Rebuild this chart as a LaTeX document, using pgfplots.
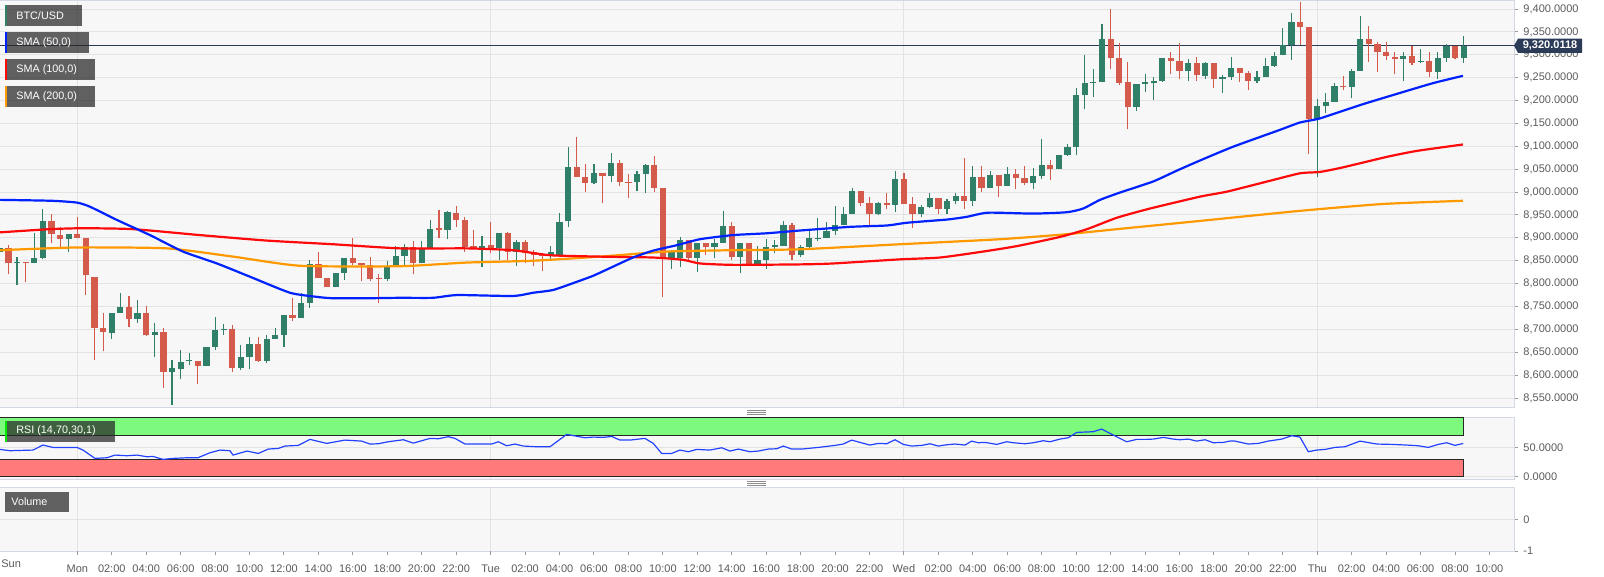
\documentclass[border=0pt]{standalone}
\usepackage{pgfplots}
\pgfplotsset{compat=1.18}
\usepackage{pgfplotstable}
\usepackage{fontspec}
\setmainfont{Liberation Sans}
\definecolor{cup}{HTML}{2F7F69}
\definecolor{cdn}{HTML}{D45A4B}
\definecolor{smaA}{HTML}{0022FF}
\definecolor{smaB}{HTML}{FF0A0A}
\definecolor{smaC}{HTML}{FF9900}
\definecolor{panelbg}{HTML}{F7F7F7}
\definecolor{gridc}{HTML}{E3E3E3}
\definecolor{framec}{HTML}{D3D8E6}
\definecolor{navy}{HTML}{2B3B58}
\definecolor{labc}{HTML}{5A5A5A}
\definecolor{rsigreen}{HTML}{7DF97D}
\definecolor{rsired}{HTML}{FF7B7B}
\definecolor{rsiline}{HTML}{2342FF}
\definecolor{boxc}{HTML}{262626}

\pgfplotstableread{
i o h l c
0 8870 8884 8866 8877
2 8846 8859 8797 8848
4 8846 8910 8846 8857
5 8857 8964 8853 8936
8 8897 8908 8870 8908
13 8693 8736 8680 8736
14 8736 8779 8736 8748
16 8722 8764 8715 8735
18 8688 8715 8640 8694
20 8607 8634 8535 8615
21 8613 8656 8591 8628
22 8630 8649 8622 8634
24 8621 8662 8621 8662
25 8662 8726 8655 8699
26 8699 8712 8688 8700
28 8615 8666 8611 8639
29 8639 8683 8613 8669
31 8632 8688 8627 8680
32 8680 8704 8680 8688
33 8688 8731 8662 8731
35 8724 8779 8724 8758
36 8758 8852 8746 8842
39 8792 8824 8792 8824
40 8824 8855 8808 8855
45 8811 8850 8805 8837
46 8837 8882 8837 8860
47 8860 8886 8841 8881
49 8846 8894 8844 8877
50 8877 8939 8877 8920
52 8917 8959 8897 8956
56 8877 8903 8837 8882
58 8877 8910 8852 8910
60 8870 8895 8838 8892
64 8862 8883 8853 8868
65 8862 8955 8862 8935
66 8937 9098 8924 9055
69 9019 9061 9018 9041
71 9035 9086 9023 9063
74 9021 9045 9003 9039
75 9039 9061 8999 9059
78 8855 8873 8831 8870
79 8855 8901 8837 8895
81 8857 8889 8826 8889
83 8879 8897 8855 8889
84 8889 8959 8889 8926
86 8859 8888 8824 8888
88 8843 8883 8843 8852
89 8852 8897 8833 8881
90 8881 8895 8866 8884
91 8882 8937 8882 8928
93 8862 8884 8858 8881
94 8881 8917 8877 8899
95 8897 8943 8894 8899
96 8899 8935 8899 8916
97 8916 8970 8906 8927
98 8927 8967 8927 8952
99 8952 9010 8952 9003
102 8952 8979 8950 8977
104 8972 9045 8957 9028
107 8953 8972 8945 8967
108 8967 8997 8965 8988
110 8962 8984 8953 8981
111 8981 8999 8974 8992
113 8981 9057 8970 9034
115 9010 9045 9008 9037
117 9013 9055 9013 9039
120 9020 9052 9006 9035
121 9035 9117 9028 9059
123 9050 9081 9050 9081
124 9081 9106 9079 9099
125 9099 9227 9081 9212
126 9212 9299 9181 9239
127 9239 9268 9208 9241
128 9241 9367 9241 9334
132 9185 9236 9178 9236
133 9237 9259 9219 9240
134 9239 9251 9201 9243
135 9243 9294 9241 9292
138 9265 9290 9242 9281
140 9254 9285 9248 9281
142 9248 9256 9217 9252
143 9251 9296 9245 9272
146 9243 9265 9238 9251
147 9251 9294 9251 9276
148 9276 9305 9274 9298
149 9299 9358 9299 9321
150 9321 9391 9289 9372
153 9159 9203 9032 9188
154 9188 9217 9172 9197
155 9197 9238 9197 9232
157 9230 9270 9205 9265
158 9265 9385 9265 9334
163 9290 9305 9243 9297
165 9284 9312 9283 9287
167 9263 9305 9248 9294
168 9294 9324 9285 9320
170 9292 9340 9283 9320.0118
}\upcandles

\pgfplotstableread{
i o h l c
1 8877 8884 8821 8846
3 8848 8848 8804 8846
6 8936 8953 8888 8908
7 8906 8924 8875 8897
9 8908 8946 8899 8900
10 8899 8899 8776 8818
11 8815 8815 8634 8702
12 8702 8735 8653 8695
15 8748 8773 8706 8722
17 8735 8750 8686 8688
19 8694 8702 8571 8607
23 8632 8632 8581 8621
27 8700 8710 8607 8615
30 8669 8683 8629 8632
34 8731 8768 8719 8724
37 8842 8870 8812 8813
38 8812 8812 8792 8792
41 8855 8899 8841 8844
42 8844 8844 8806 8841
43 8841 8859 8806 8811
44 8812 8822 8757 8810
48 8880 8894 8821 8844
51 8921 8961 8899 8917
53 8955 8970 8924 8940
54 8939 8945 8870 8881
55 8882 8918 8877 8877
57 8884 8935 8866 8877
59 8910 8913 8852 8870
61 8892 8895 8844 8866
62 8870 8873 8838 8862
63 8862 8866 8828 8860
67 9055 9121 9034 9034
68 9032 9061 9001 9019
70 9041 9042 8977 9035
72 9063 9070 9013 9021
73 9023 9039 8986 9020
76 9059 9079 9001 9008
77 9008 9008 8770 8855
80 8895 8895 8852 8857
82 8889 8889 8862 8879
85 8926 8935 8852 8859
87 8888 8888 8838 8841
92 8928 8933 8852 8862
100 9003 9003 8970 8977
101 8977 8990 8924 8952
103 8977 8999 8962 8972
105 9028 9041 8975 8975
106 8974 8990 8921 8953
109 8988 8988 8953 8962
112 8992 9074 8964 8981
114 9034 9058 9001 9010
116 9037 9037 8990 9013
118 9039 9050 9006 9030
119 9030 9057 9015 9020
122 9059 9071 9026 9050
129 9334 9399 9268 9294
130 9294 9326 9234 9239
131 9241 9285 9137 9185
136 9292 9305 9258 9287
137 9287 9325 9246 9265
139 9281 9296 9243 9256
141 9281 9281 9227 9248
144 9272 9272 9241 9261
145 9260 9265 9224 9243
151 9372 9415 9321 9361
152 9360 9361 9083 9159
156 9232 9254 9224 9229
159 9334 9363 9285 9324
160 9324 9329 9263 9305
161 9305 9327 9289 9297
162 9296 9305 9259 9290
164 9297 9319 9278 9281
166 9287 9305 9252 9263
169 9320 9320 9290 9292
}\downcandles

\pgfplotstableread{
i v
0 8983
6.0 8981
8.96 8977
10.47 8968
13.61 8939
17.44 8906
21.27 8870
25.22 8844
29.06 8815
33.7 8780
36.84 8771
38.69 8768
42.64 8768
46.47 8769
50.31 8769
53.1 8775
59.6 8773
61.92 8780
64.24 8786
66.57 8801
68.89 8817
71.21 8837
73.53 8857
75.86 8872
78.64 8884
81.31 8897
85.14 8906
89.09 8910
92.93 8916
98.73 8924
103.03 8927
105.35 8933
110.0 8940
112.32 8946
114.76 8955
119.99 8953
123.93 8956
125.8 8964
127.77 8983
130.09 8999
133.92 9023
136.71 9047
139.38 9069
143.21 9099
148.67 9136
150.99 9152
153.31 9161
157.96 9190
161.79 9212
166.44 9238
169.92 9254
}\smaA

\pgfplotstableread{
i v
0 8912
5.83 8919
9.66 8921
15.47 8919
23.25 8906
31.03 8894
38.69 8886
46.47 8877
54.25 8877
59.6 8873
63.89 8862
69.7 8859
75.86 8857
79.34 8852
81.31 8844
85.14 8841
92.93 8842
96.76 8844
104.54 8853
109.19 8857
114.18 8870
118.13 8882
123.12 8902
126.26 8919
129.74 8944
133.57 8964
139.38 8990
142.52 9001
147.16 9023
150.99 9041
153.31 9044
155.98 9054
161.1 9077
164.58 9090
169.92 9104
}\smaB

\pgfplotstableread{
i v
0 8873
8.96 8879
19.42 8877
27.08 8859
34.86 8839
46.47 8838
54.25 8846
61.92 8850
69.7 8859
77.48 8870
85.14 8873
92.93 8875
104.54 8886
116.15 8897
123.93 8908
129.74 8919
139.38 8937
150.99 8959
160.63 8974
169.92 8981
}\smaC

\pgfplotstableread{
i r
0 46.6
1.18 44.4
3.85 45.5
5.01 54
6.17 50
7.8 50
8.96 50
9.66 45.5
11.05 31.4
12.45 32.5
13.38 37
14.77 35.9
15.93 37
17.09 34.2
17.79 34.7
18.95 29.7
20.11 31.4
21.74 32.5
23.01 32.5
24.41 41
25.57 45.5
26.73 44.4
27.08 37
28.7 43.8
30.02 39.8
31.18 47.2
32.34 48.3
33.12 52.3
34.66 53.4
36.02 63.6
37.96 56.8
40.08 62.4
42.02 60.7
42.99 55.7
43.95 56.2
45.11 59.6
46.86 63
48.02 57.3
49.96 65.3
50.92 64.7
52.08 68.1
52.86 65.3
54.02 55.7
57.12 55.7
57.89 59.6
58.86 52.8
59.83 55.7
60.79 52.3
62.35 51.1
63.89 51.1
65.83 72
67.96 66.4
68.92 67.5
70.08 67
71.06 68.6
72.02 62.4
73.18 62.4
74.92 65.3
75.89 56.8
76.86 39.8
78.02 39.8
78.99 45.5
79.95 42.7
80.93 46.6
82.47 45.5
83.83 49.4
84.8 43.8
85.76 47.2
87.12 42.7
88.08 43.8
89.24 47.2
90.22 47.7
90.99 52.3
91.96 47.2
93.12 47.2
95.05 50
96.99 53.4
97.95 55.7
98.93 62.4
99.89 58.5
101.05 54
102.02 56.8
102.99 56.2
103.96 63
104.92 55.1
105.9 52.3
107.06 53.4
108.02 56.2
108.99 52.3
109.96 54.5
110.92 55.7
112.09 54
112.86 60.7
113.63 57.9
114.41 58.5
115.77 55.1
116.93 59.6
117.7 57.9
119.05 56.2
120.02 57.9
121.18 61.3
121.96 59.6
123.12 64.1
124.09 66.4
125.06 75.4
126.99 76.6
127.96 81.1
129.31 70.9
130.86 59.6
132.03 63.6
133.19 63.6
133.96 64.1
135.12 67
136.28 64.1
137.05 63
138.02 64.1
138.99 60.7
139.96 63
140.92 57.9
142.09 58.5
142.86 60.7
143.44 60.7
144.99 55.7
146.15 56.8
147.31 60.7
148.87 64.1
150.03 69.8
150.99 67.5
151.96 42.7
152.93 45.5
153.9 46.6
155.05 50
156.21 51.1
157.96 60.7
159.9 55.7
161.64 55.1
163.38 54
164.73 52.8
165.89 50
167.05 55.1
168.03 57.9
169.0 53.4
169.95 56.8
}\rsidata

\pgfplotsset{
  panel/.style={
    scale only axis, width=757pt, xmin=0.02, xmax=175.85,
    axis background/.style={fill=panelbg},
    axis line style={framec, line width=0.5pt},
    grid style={gridc, line width=0.5pt},
    tick style={color=labc!60, line width=0.5pt},
    tick align=outside, major tick length=2pt,
    ytick pos=right, yticklabel pos=right, xtick pos=bottom,
    ticklabel style={font=\fontsize{5.5}{6}\selectfont, color=labc},
    yticklabel style={anchor=west, xshift=-0.8pt},
    /pgf/number format/assume math mode=true,
    clip=true,
  },
  wick/.style={only marks, mark=*, mark size=0pt, mark options={draw=none, fill=none}, forget plot,
    error bars/.cd, y dir=plus, y explicit, error mark=none,
    error bar style={line width=0.55pt, draw=#1}},
  body/.style={only marks, mark=*, mark size=0pt, mark options={draw=none, fill=none}, forget plot,
    error bars/.cd, y dir=plus, y explicit, error mark=none,
    error bar style={line width=3.1pt, draw=#1}},
}

\begin{document}
\begin{tikzpicture}
\useasboundingbox (0,0) rectangle (802pt,-288.5pt);

% ---------------- main price panel ----------------
\begin{axis}[panel, at={(0pt,-0.5pt)}, anchor=north west, height=203pt,
  ymin=8530.4, ymax=9417.5,
  ytick={8550,8600,8650,8700,8750,8800,8850,8900,8950,9000,9050,9100,9150,9200,9250,9300,9350,9400},
  yticklabels={{8,550.0000},{8,600.0000},{8,650.0000},{8,700.0000},{8,750.0000},{8,800.0000},{8,850.0000},{8,900.0000},{8,950.0000},{9,000.0000},{9,050.0000},{9,100.0000},{9,150.0000},{9,200.0000},{9,250.0000},{9,300.0000},{9,350.0000},{9,400.0000}},
  ymajorgrids, xmajorgrids,
  xtick={9,57,105,153}, xticklabels={}, xtick style={draw=none},
]
\addplot[navy, line width=0.55pt, forget plot] coordinates {(0.02,9320.0118) (175.85,9320.0118)};
\addplot[wick=cup] table[x=i, y=l, y error plus expr=\thisrow{h}-\thisrow{l}] {\upcandles};
\addplot[body=cup] table[x=i, y=o, y error plus expr={max(\thisrow{c}-\thisrow{o},1.8)}] {\upcandles};
\addplot[wick=cdn] table[x=i, y=l, y error plus expr=\thisrow{h}-\thisrow{l}] {\downcandles};
\addplot[body=cdn] table[x=i, y=c, y error plus expr={max(\thisrow{o}-\thisrow{c},1.8)}] {\downcandles};
\addplot[smaC, line width=1.1pt, smooth, tension=0.35] table[x=i, y=v] {\smaC};
\addplot[smaB, line width=1.1pt, smooth, tension=0.35] table[x=i, y=v] {\smaB};
\addplot[smaA, line width=1.1pt, smooth, tension=0.35] table[x=i, y=v] {\smaA};
\end{axis}

% ---------------- RSI panel ----------------
\begin{axis}[panel, at={(0pt,-208.5pt)}, anchor=north west, height=31pt,
  ymin=-3.5, ymax=101.5,
  ytick={0,50}, yticklabels={0.0000,50.0000},
  ymajorgrids, xmajorgrids,
  xtick={9,57,105,153}, xticklabels={}, xtick style={draw=none},
]
\addplot[fill=rsigreen, draw=black!85, line width=0.45pt] coordinates {(0,70) (170,70) (170,100) (0,100)} -- cycle;
\addplot[fill=rsired, draw=black!85, line width=0.45pt] coordinates {(0,0) (170,0) (170,30) (0,30)} -- cycle;
\addplot[rsiline, line width=0.6pt, line join=round] table[x=i, y=r] {\rsidata};
\end{axis}

% ---------------- Volume panel ----------------
\begin{axis}[panel, at={(0pt,-243.5pt)}, anchor=north west, height=32pt,
  ymin=-1, ymax=1.06,
  ytick={-1,0}, yticklabels={{-1},{0}},
  ymajorgrids,
  xtick={9,13,...,173},
  xticklabels={Mon,02:00,04:00,06:00,08:00,10:00,12:00,14:00,16:00,18:00,20:00,22:00,
               Tue,02:00,04:00,06:00,08:00,10:00,12:00,14:00,16:00,18:00,20:00,22:00,
               Wed,02:00,04:00,06:00,08:00,10:00,12:00,14:00,16:00,18:00,20:00,22:00,
               Thu,02:00,04:00,06:00,08:00,10:00},
  extra x ticks={9,57,105,153}, extra x tick labels={},
  extra x tick style={grid=major},
  xticklabel style={yshift=-1.2pt},
]
\addplot[draw=none, forget plot] coordinates {(0,0) (170,0)};
\end{axis}

\node[anchor=west, inner sep=0pt, font=\fontsize{5.5}{6}\selectfont, text=labc] at (0.5pt,-282pt) {Sun};

% legend boxes
\begin{scope}[font=\fontsize{5.4}{6}\selectfont]
\fill[boxc, fill opacity=0.72] (2.5pt,-2.5pt) rectangle (41pt,-13pt);
\fill[cup] (2.5pt,-2.5pt) rectangle (3.5pt,-13pt);
\node[anchor=west, inner sep=0pt, text=white] at (8pt,-7.75pt) {BTC/USD};
\fill[boxc, fill opacity=0.72] (2.5pt,-16pt) rectangle (44.5pt,-26.3pt);
\fill[smaA] (2.5pt,-16pt) rectangle (3.5pt,-26.3pt);
\node[anchor=west, inner sep=0pt, text=white] at (8pt,-21.2pt) {SMA (50,0)};
\fill[boxc, fill opacity=0.72] (2.5pt,-29.6pt) rectangle (47.5pt,-40pt);
\fill[smaB] (2.5pt,-29.6pt) rectangle (3.5pt,-40pt);
\node[anchor=west, inner sep=0pt, text=white] at (8pt,-34.8pt) {SMA (100,0)};
\fill[boxc, fill opacity=0.72] (2.5pt,-43pt) rectangle (47.5pt,-53.4pt);
\fill[smaC] (2.5pt,-43pt) rectangle (3.5pt,-53.4pt);
\node[anchor=west, inner sep=0pt, text=white] at (8pt,-48.2pt) {SMA (200,0)};
% RSI label
\fill[boxc, fill opacity=0.72] (3.5pt,-210.5pt) rectangle (57.5pt,-220.8pt);
\fill[green!85!black!60!green] (2.5pt,-210.5pt) rectangle (3.5pt,-220.8pt);
\node[anchor=west, inner sep=0pt, text=white] at (8pt,-215.6pt) {RSI (14,70,30,1)};
% Volume label
\fill[boxc, fill opacity=0.72] (2.5pt,-246pt) rectangle (34.5pt,-256pt);
\node[anchor=west, inner sep=0pt, text=white] at (5.5pt,-251pt) {Volume};
\end{scope}

% price tag
\fill[navy] (757pt,-22.8pt) -- (759pt,-19.3pt) -- (791pt,-19.3pt) -- (791pt,-26.5pt) -- (759pt,-26.5pt) -- cycle;
\node[inner sep=0pt, text=white, font=\bfseries\fontsize{5.5}{6}\selectfont] at (775pt,-22.9pt) {9,320.0118};

% grips
\foreach \yy in {-205,-206,-207,-240.5,-241.5,-242.5}
  \draw[black!45, line width=0.3pt] (373.5pt,\yy pt) -- (383pt,\yy pt);
\end{tikzpicture}
\end{document}
